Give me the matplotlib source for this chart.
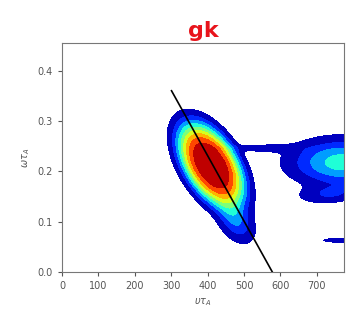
import numpy as np
import matplotlib
matplotlib.use("Agg")
import matplotlib.pyplot as plt

# density blobs: centre x, centre y, sd along, sd across (axis units 0..1),
# angle (deg), weight, shape exponent
blob_x = [410, 478, 555, 772, 735, 760]
blob_y = [0.212, 0.10, 0.246, 0.218, 0.155, 0.063]
blob_sa = [0.16, 0.06, 0.085, 0.12, 0.07, 0.045]
blob_sc = [0.076, 0.035, 0.012, 0.065, 0.026, 0.007]
blob_ang = [-66, -66, 0, 0, 5, 0]
blob_w = [1.0, 0.25, 0.1, 0.42, 0.16, 0.12]
blob_p = [3.5, 2, 2, 2.2, 2, 2]

# fitted line
line_x = [301, 578]
line_y = [0.36, 0.0]

xmax, ymax = 775, 0.455

xs = np.linspace(0, xmax, 400)
ys = np.linspace(0, ymax, 300)
X, Y = np.meshgrid(xs, ys)
U, V = X / xmax, Y / ymax
Z = np.zeros_like(X)
for cx, cy, sa, sc, ang, w, p in zip(blob_x, blob_y, blob_sa, blob_sc, blob_ang, blob_w, blob_p):
    t = np.deg2rad(ang)
    du, dv = U - cx / xmax, V - cy / ymax
    a = du * np.cos(t) + dv * np.sin(t)
    c = -du * np.sin(t) + dv * np.cos(t)
    r = np.sqrt((a / sa) ** 2 + (c / sc) ** 2)
    Z += w * np.exp(-0.5 * r ** p)
Z /= Z.max()

fig = plt.figure(figsize=(3.5, 3.25), dpi=100)
ax = fig.add_axes([0.177, 0.163, 0.806, 0.705])
levels = np.linspace(0.06, 1.0, 10)
ax.contourf(X, Y, Z, levels=levels, cmap="jet")
ax.plot(line_x, line_y, color="black", lw=1.2)

ax.set_xlim(0, xmax)
ax.set_ylim(0, ymax)
ax.set_xticks(np.arange(0, 701, 100))
ax.set_yticks([0.0, 0.1, 0.2, 0.3, 0.4])
ax.tick_params(labelsize=7, colors="#555555", length=3)
for s in ax.spines.values():
    s.set_color("#777777")
ax.set_xlabel(r"$\upsilon\tau_A$", fontsize=7, color="#555555")
ax.set_ylabel(r"$\omega\tau_A$", fontsize=7, color="#555555")
ax.set_title("gk", color="#e8141c", fontsize=16, fontweight="bold", pad=4)

fig.savefig("out.png", dpi=100)
